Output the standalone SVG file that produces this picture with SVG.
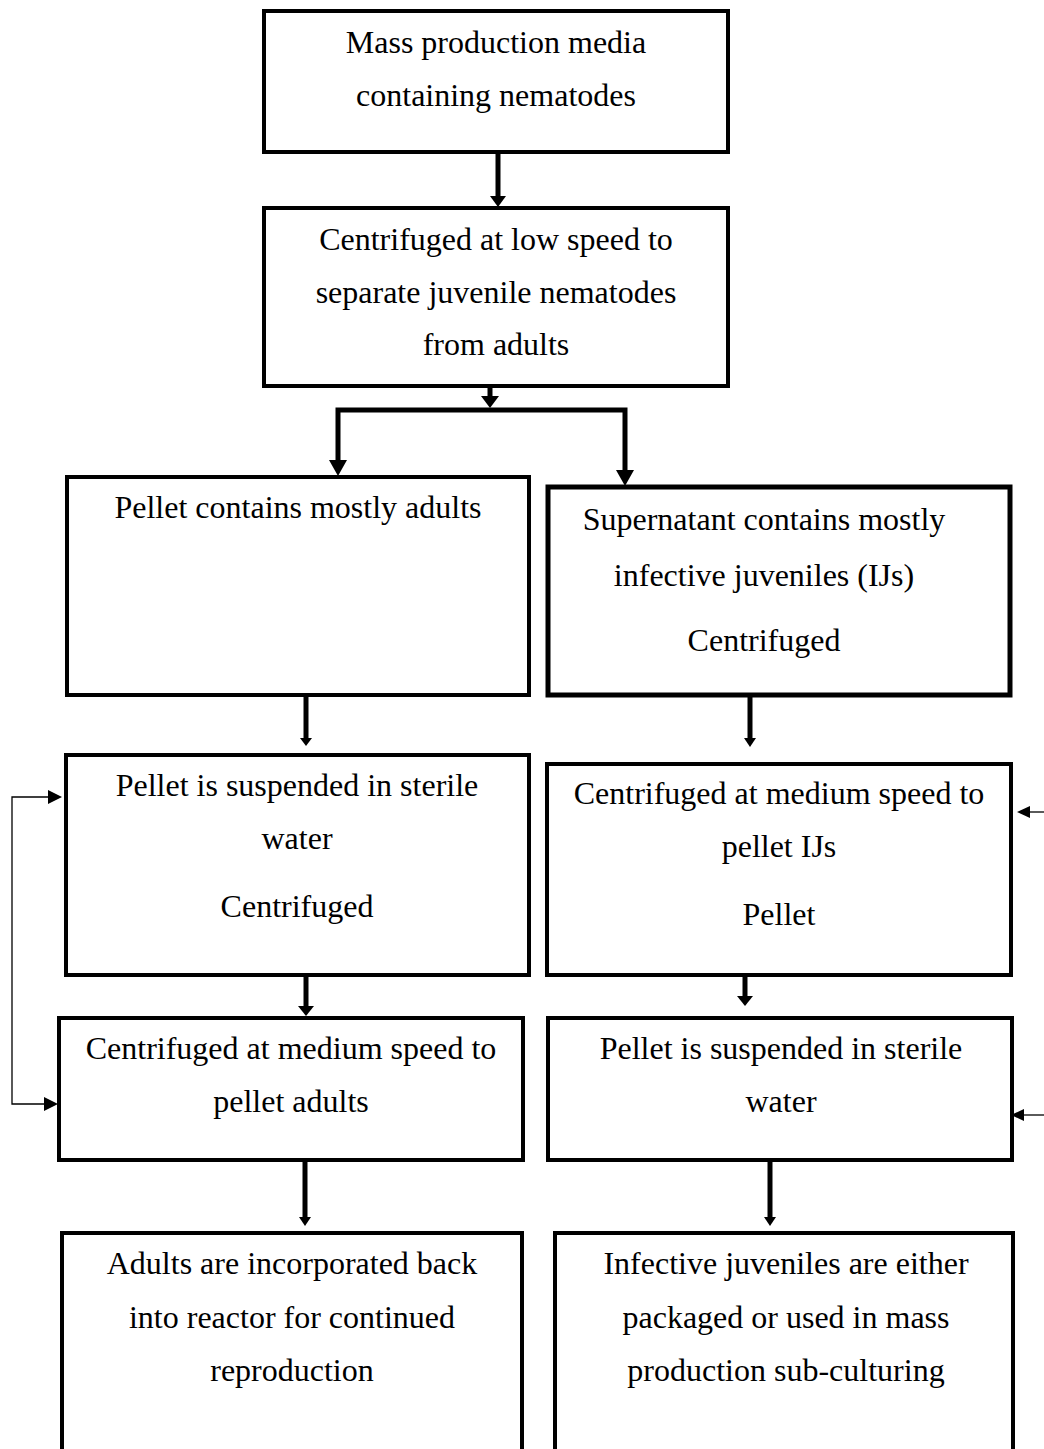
<svg xmlns="http://www.w3.org/2000/svg" width="1044" height="1449" viewBox="0 0 1044 1449">
<style>
.box{fill:#fff;stroke:#000;stroke-width:4}
.t{font-family:"Liberation Serif","Times New Roman",serif;font-size:32px;fill:#000;text-anchor:middle}
.c{fill:none;stroke:#000;stroke-width:5}
.thin{fill:none;stroke:#000;stroke-width:1.3}
</style>
<rect width="1044" height="1449" fill="#fff"/>
<g id="connectors">
<line class="c" x1="498" y1="152" x2="498" y2="198"/>
<polygon points="490,196 506,196 498,207" fill="#000"/>
<line class="c" x1="490" y1="386" x2="490" y2="400"/>
<polygon points="481,396 499,396 490,408" fill="#000"/>
<polyline class="c" points="338,462 338,410 625,410 625,470"/>
<polygon points="329,460 347,460 338,476" fill="#000"/>
<polygon points="616,470 634,470 625,486" fill="#000"/>
<line class="c" x1="306" y1="695" x2="306" y2="740"/>
<polygon points="300,738 312,738 306,746" fill="#000"/>
<line class="c" x1="750" y1="695" x2="750" y2="740"/>
<polygon points="744,738 756,738 750,747" fill="#000"/>
<line class="c" x1="306" y1="975" x2="306" y2="1008"/>
<polygon points="298,1006 314,1006 306,1016" fill="#000"/>
<line class="c" x1="745" y1="975" x2="745" y2="998"/>
<polygon points="737,996 753,996 745,1006" fill="#000"/>
<line class="c" x1="305" y1="1160" x2="305" y2="1218"/>
<polygon points="299,1217 311,1217 305,1226" fill="#000"/>
<line class="c" x1="770" y1="1160" x2="770" y2="1218"/>
<polygon points="764,1217 776,1217 770,1226" fill="#000"/>
<polyline class="thin" points="55,797 12,797 12,1104 50,1104"/>
<polygon points="48,790 62,797 48,804" fill="#000"/>
<polygon points="44,1097 58,1104 44,1111" fill="#000"/>
<line class="thin" x1="1044" y1="812" x2="1025" y2="812"/>
<polygon points="1030,806 1017,812 1030,818" fill="#000"/>
<line class="thin" x1="1044" y1="1115" x2="1020" y2="1115"/>
<polygon points="1024,1109 1011,1115 1024,1121" fill="#000"/>
</g>
<g id="n1">
<rect class="box" x="264" y="11" width="464" height="141"/>
<text class="t" x="496" y="53">Mass production media</text>
<text class="t" x="496" y="106">containing nematodes</text>
</g>
<g id="n2">
<rect class="box" x="264" y="208" width="464" height="178"/>
<text class="t" x="496" y="250">Centrifuged at low speed to</text>
<text class="t" x="496" y="303">separate juvenile nematodes</text>
<text class="t" x="496" y="355">from adults</text>
</g>
<g id="n3">
<rect class="box" x="67" y="477" width="462" height="218"/>
<text class="t" x="298" y="518">Pellet contains mostly adults</text>
</g>
<g id="n4">
<rect class="box" x="548" y="487" width="462" height="208" style="stroke-width:5"/>
<text class="t" x="764" y="530">Supernatant contains mostly</text>
<text class="t" x="764" y="586">infective juveniles (IJs)</text>
<text class="t" x="764" y="651">Centrifuged</text>
</g>
<g id="n5">
<rect class="box" x="66" y="755" width="463" height="220"/>
<text class="t" x="297" y="796">Pellet is suspended in sterile</text>
<text class="t" x="297" y="849">water</text>
<text class="t" x="297" y="917">Centrifuged</text>
</g>
<g id="n6">
<rect class="box" x="547" y="764" width="464" height="211"/>
<text class="t" x="779" y="804">Centrifuged at medium speed to</text>
<text class="t" x="779" y="857">pellet IJs</text>
<text class="t" x="779" y="925">Pellet</text>
</g>
<g id="n7">
<rect class="box" x="59" y="1018" width="464" height="142"/>
<text class="t" x="291" y="1059">Centrifuged at medium speed to</text>
<text class="t" x="291" y="1112">pellet adults</text>
</g>
<g id="n8">
<rect class="box" x="548" y="1018" width="464" height="142"/>
<text class="t" x="781" y="1059">Pellet is suspended in sterile</text>
<text class="t" x="781" y="1112">water</text>
</g>
<g id="n9">
<rect class="box" x="62" y="1233" width="460" height="240"/>
<text class="t" x="292" y="1274">Adults are incorporated back</text>
<text class="t" x="292" y="1328">into reactor for continued</text>
<text class="t" x="292" y="1381">reproduction</text>
</g>
<g id="n10">
<rect class="box" x="555" y="1233" width="458" height="240"/>
<text class="t" x="786" y="1274">Infective juveniles are either</text>
<text class="t" x="786" y="1328">packaged or used in mass</text>
<text class="t" x="786" y="1381">production sub-culturing</text>
</g>
</svg>
